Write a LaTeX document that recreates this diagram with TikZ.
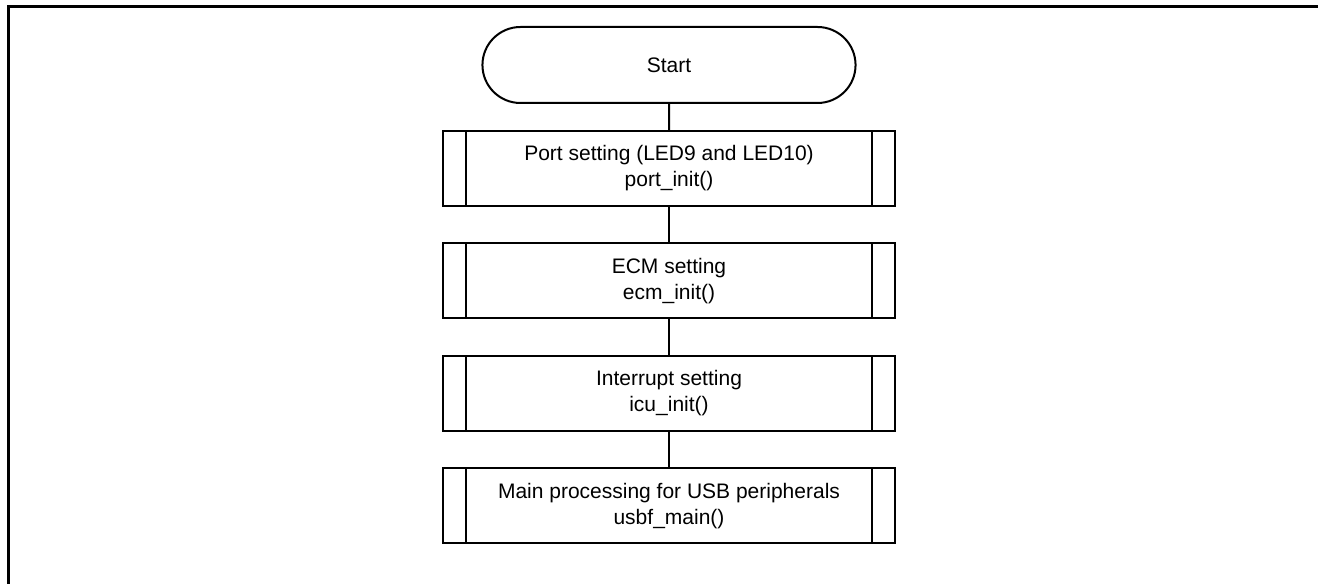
\documentclass[tikz,border=0pt]{standalone}
\usepackage{fontspec}
\setmainfont{Liberation Sans}
\usetikzlibrary{positioning,shapes.misc}
\tikzset{
  termbox/.style={draw, rounded rectangle, line width=1.5pt, outer sep=0pt, minimum width=286.5pt, minimum height=57pt, font=\fontsize{15.75}{19.5}\selectfont},
  subbox/.style={draw, rectangle, line width=1.5pt, outer sep=0pt, minimum width=339pt, minimum height=56.25pt, align=center, font=\fontsize{15.75}{19.5}\selectfont},
  flowline/.style={line width=1.5pt}
}
\begin{document}
\begin{tikzpicture}
    \useasboundingbox (0,0) rectangle (988.5pt,-438pt);
    \draw[line width=2.25pt] (6pt,-438pt) -- (6pt,-5.25pt) -- (988.5pt,-5.25pt);
    \node[termbox] (start) at (501.75pt,-48.75pt) {Start};
    \node[subbox, below=21pt of start] (port) {Port setting (LED9 and LED10)\\port\_init()};
    \node[subbox, below=28.125pt of port] (ecm) {ECM setting\\ecm\_init()};
    \node[subbox, below=28.125pt of ecm] (icu) {Interrupt setting\\icu\_init()};
    \node[subbox, below=28.125pt of icu] (usbf) {Main processing for USB peripherals\\usbf\_main()};
    % double side bars of the subroutine boxes
    \foreach \n in {port,ecm,icu,usbf}
        \draw[flowline] ([xshift=17.25pt]\n.north west) -- ([xshift=17.25pt]\n.south west)
            ([xshift=-17.25pt]\n.north east) -- ([xshift=-17.25pt]\n.south east);
    \draw[flowline] (start) -- (port);
    \draw[flowline] (port) -- (ecm);
    \draw[flowline] (ecm) -- (icu);
    \draw[flowline] (icu) -- (usbf);
\end{tikzpicture}
\end{document}
